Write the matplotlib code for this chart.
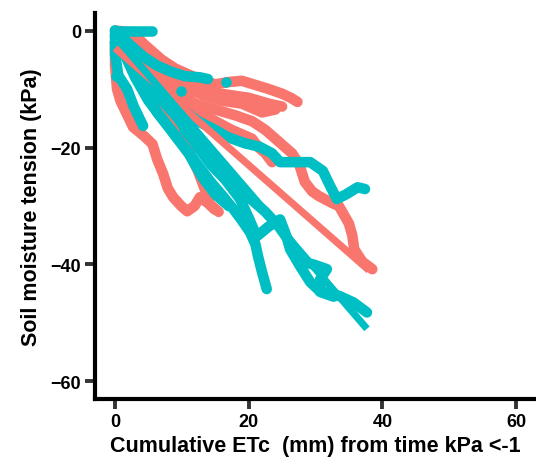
import matplotlib
matplotlib.use("Agg")
import matplotlib.pyplot as plt

SALMON = "#F8766D"
CYAN = "#00BFC4"

# ---- data ----
# salmon group traces
s_top_x = [0, 2.5, 4.5, 7, 9, 11, 13, 15, 17, 19, 21, 23, 25, 26.3, 27.3]
s_top_y = [0, -0.3, -2.5, -5, -6.5, -7.5, -8.5, -9.2, -8.8, -8.6, -9.3, -10, -10.8, -11.5, -12.2]

s_mid_x = [0, 3, 6, 9, 12, 15, 18, 20.5, 22.5, 24.5, 26.5, 27.6, 28.4, 29.5, 30.5, 32.5, 33.5, 35, 35.5, 35.8, 37, 38.5]
s_mid_y = [-1, -4, -7, -10, -12.5, -13.5, -14.5, -15.5, -17, -19, -21, -23, -25.9, -27.5, -28.3, -29.5, -30, -33, -35, -37.4, -39.5, -40.8]

s_mid2_x = [3, 6, 9, 12, 15, 17.5, 20.5, 21.5, 22.5, 23.5]
s_mid2_y = [-4, -7.5, -11, -13.5, -15.5, -17, -18.5, -20, -21, -22.5]

s_mid3_x = [1, 5, 9, 13, 16, 19, 22, 24]
s_mid3_y = [-2, -5.5, -8.5, -11, -12, -12.5, -14, -13.5]

s_mid4_x = [2, 5, 8, 11, 14, 17, 20, 23, 25]
s_mid4_y = [-1, -4, -6, -9, -10.5, -11, -11.5, -12.5, -13]

s_low_x = [0, 0, 0.3, 0.8, 2.7, 4.3, 5.6, 6.3, 7.2, 7.9, 8.7, 9.9, 10.8, 11.9, 12.7, 13.9, 14.9]
s_low_y = [-2, -6, -10, -12, -16.5, -18, -19.4, -22, -24.5, -27, -28.5, -30, -30.9, -30, -28.5, -29.5, -30.6]

s_4_x = [1.3, 4.3, 7.3, 9.3, 11.2, 12.4, 13.4, 14.2, 15.5]
s_4_y = [-3, -8, -13, -17, -21, -24, -27, -29.7, -31]

s_fit_x = [0, 38]
s_fit_y = [-3, -41]

# cyan group traces
c_top_x = [0, 1, 2, 3, 4, 5.5]
c_top_y = [0, 0, 0, 0, 0, 0]

c_up_x = [0, 2.3, 4.3, 6.3, 8.3, 10.4, 12.7, 13.9]
c_up_y = [0, -2.5, -4.5, -6, -7, -7.8, -8, -8.3]

c_left_x = [0, 0, 0.5, 1.8, 2.8, 4.2]
c_left_y = [0, -4, -7.7, -10, -13, -16.3]

c_wavy_x = [0, 3.3, 6.3, 9.4, 12.4, 15, 16.8, 19.5, 21.7, 23.5, 24.7, 26.6, 29.2, 31.1, 32.2, 33.2, 34.6, 36.3, 37.4]
c_wavy_y = [-2, -6, -10, -13, -15.5, -17, -18.2, -19.3, -19.9, -21, -22.5, -22.5, -22.5, -24, -26.6, -28.8, -28, -26.8, -27.1]

c_st1_x = [0, 2.3, 4.3, 6.3, 8.4, 10.4, 12.4, 14.4, 15.9, 17.7, 19, 20.2, 21, 21.4, 22, 22.7]
c_st1_y = [-1, -5, -10, -14, -17, -20, -23, -26, -28, -30.5, -32.5, -34.5, -36.5, -38.6, -41.3, -44.2]

c_st2_x = [0, 3.3, 6.3, 9.4, 12.4, 14.4, 16.5, 18.7, 20, 21.2, 23, 24.7, 25.6, 26.2, 27.7, 29.2, 30.6, 33.6, 35.7, 37.7]
c_st2_y = [-2, -7, -11, -15, -20, -23, -25.5, -28.8, -32, -35.2, -33.5, -32.3, -35, -37.4, -40.3, -43, -44.5, -45.4, -46.5, -48.2]

c_st3_x = [1, 3, 5, 7, 9, 11, 13, 15, 17]
c_st3_y = [-3, -8, -12, -15, -18, -21, -25, -28, -30]

c_5_x = [10.4, 14.4, 18.5, 22.5, 24.5, 26.2, 28.2, 29.7, 31.7, 30.7, 30.7, 32.7]
c_5_y = [-17, -22, -27, -31, -33.5, -36.2, -39.6, -40, -40.8, -42.5, -44.7, -45.5]

c_dot_x = [16.6, 9.9, 0.2]
c_dot_y = [-8.8, -10.3, -7.7]

c_fit_x = [0, 37.7]
c_fit_y = [-1, -51]

XTICKS = [0, 20, 40, 60]
YTICKS = [0, -20, -40, -60]
XLABEL = "Cumulative ETc  (mm) from time kPa <-1"
YLABEL = "Soil moisture tension (kPa)"

# ---- figure ----
fig = plt.figure(figsize=(5.36, 4.64), dpi=100)
ax = fig.add_axes([95 / 536, 64 / 464, 441 / 536, 386 / 464])

TLW = 7.6
kw = dict(lw=TLW, solid_capstyle="round", solid_joinstyle="round")

salmon_traces = [(s_top_x, s_top_y), (s_mid4_x, s_mid4_y), (s_mid3_x, s_mid3_y),
                 (s_mid2_x, s_mid2_y), (s_mid_x, s_mid_y), (s_low_x, s_low_y),
                 (s_4_x, s_4_y)]
cyan_traces = [(c_top_x, c_top_y), (c_up_x, c_up_y), (c_left_x, c_left_y),
               (c_wavy_x, c_wavy_y), (c_st1_x, c_st1_y), (c_st3_x, c_st3_y),
               (c_st2_x, c_st2_y), (c_5_x, c_5_y)]

for x, y in salmon_traces:
    ax.plot(x, y, color=SALMON, **kw)
for x, y in cyan_traces:
    ax.plot(x, y, color=CYAN, **kw)
ax.plot(c_dot_x, c_dot_y, "o", color=CYAN, ms=TLW, mew=0, ls="none")

ax.plot(s_fit_x, s_fit_y, color=SALMON, lw=5.2, solid_capstyle="butt")
ax.plot(c_fit_x, c_fit_y, color=CYAN, lw=5.2, solid_capstyle="butt")

ax.set_xlim(-3, 63)
ax.set_ylim(-63, 3)
ax.set_xticks(XTICKS)
ax.set_yticks(YTICKS)

for s in ["top", "right"]:
    ax.spines[s].set_visible(False)
for s in ["left", "bottom"]:
    ax.spines[s].set_linewidth(3)
    ax.spines[s].set_color("black")
    ax.spines[s].set_capstyle("projecting")

ax.tick_params(direction="out", length=7, width=2.8, color="#333333", pad=3,
               labelsize=13, labelcolor="black")
for lab in ax.get_xticklabels() + ax.get_yticklabels():
    lab.set_fontfamily("Liberation Sans")
    lab.set_fontweight("bold")

ax.set_xlabel(XLABEL, fontsize=15.5, fontweight="bold", family="Liberation Sans", labelpad=4)
ax.set_ylabel(YLABEL, fontsize=15.5, fontweight="bold", family="Liberation Sans", labelpad=6)

fig.savefig("out.png", dpi=100)
